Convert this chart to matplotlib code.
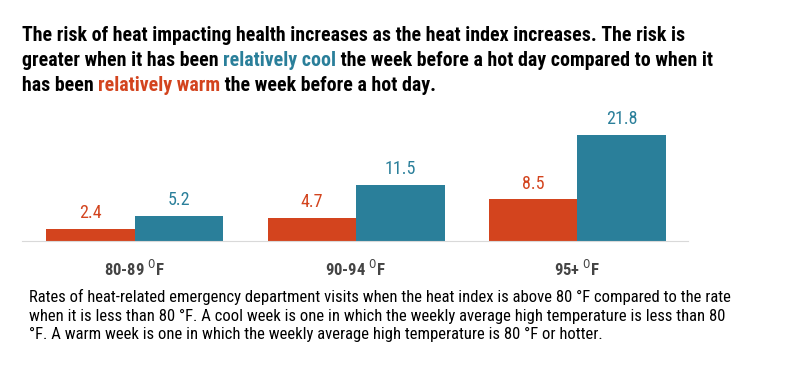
import matplotlib.pyplot as plt
import numpy as np

categories = ['80-89 $^{0}$F', '90-94 $^{0}$F', '95+ $^{0}$F']
warm_values = [2.4, 4.7, 8.5]
cool_values = [5.2, 11.5, 21.8]

ORANGE = '#D3441E'
BLUE = '#2A7F9A'

plt.rcParams['font.family'] = ['Roboto Condensed', 'DejaVu Sans']

fig = plt.figure(figsize=(7.87, 3.83), dpi=100)
ax = fig.add_axes([0.028, 0.371, 0.846, 0.318])
renderer = fig.canvas.get_renderer()

x = np.arange(len(categories))
w = 0.4
ax.bar(x - w / 2, warm_values, w, color=ORANGE)
ax.bar(x + w / 2, cool_values, w, color=BLUE)
for xi, v in zip(x, warm_values):
    ax.text(xi - w / 2, v + 1.4, f'{v}', ha='center', va='bottom', color=ORANGE, fontsize=13)
for xi, v in zip(x, cool_values):
    ax.text(xi + w / 2, v + 1.4, f'{v}', ha='center', va='bottom', color=BLUE, fontsize=13)

ax.set_xlim(-0.51, 2.5)
ax.set_ylim(0, 25)
ax.set_yticks([])
ax.set_xticks(x)
ax.set_xticklabels(categories, fontsize=12, fontweight='bold', color='#444444')
ax.tick_params(axis='x', length=0, pad=13)
for s in ['top', 'right', 'left']:
    ax.spines[s].set_visible(False)
ax.spines['bottom'].set_color('#D9D9D9')


def fit_size(txt, width_px, weight, base=14):
    t = fig.text(0, 0, txt, fontsize=base, fontweight=weight)
    wpx = t.get_window_extent(renderer).width
    t.remove()
    return base * width_px / wpx


def rich_line(y, parts, size, weight):
    xpos = 22 / 787
    for txt, col in parts:
        t = fig.text(xpos, y, txt, color=col, fontsize=size, fontweight=weight, va='baseline')
        bb = t.get_window_extent(renderer)
        xpos += bb.width / fig.bbox.width


title1 = 'The risk of heat impacting health increases as the heat index increases. The risk is'
tsize = fit_size(title1, 664, 'bold')
rich_line(1 - 41 / 383, [(title1, 'black')], tsize, 'bold')
rich_line(1 - 66 / 383, [('greater when it has been ', 'black'), ('relatively cool', BLUE),
                         (' the week before a hot day compared to when it', 'black')], tsize, 'bold')
rich_line(1 - 91 / 383, [('has been ', 'black'), ('relatively warm', ORANGE),
                         (' the week before a hot day.', 'black')], tsize, 'bold')

cap1 = 'Rates of heat-related emergency department visits when the heat index is above 80 \u00b0F compared to the rate'
caption = (cap1 + '\n'
           'when it is less than 80 \u00b0F. A cool week is one in which the weekly average high temperature is less than 80\n'
           '\u00b0F. A warm week is one in which the weekly average high temperature is 80 \u00b0F or hotter.')
csize = fit_size(cap1, 698, 'normal', 10)
fig.text(29 / 787, 1 - 289 / 383, caption, fontsize=csize, va='top', linespacing=1.3, color='black')

fig.savefig('out.png', dpi=100)
